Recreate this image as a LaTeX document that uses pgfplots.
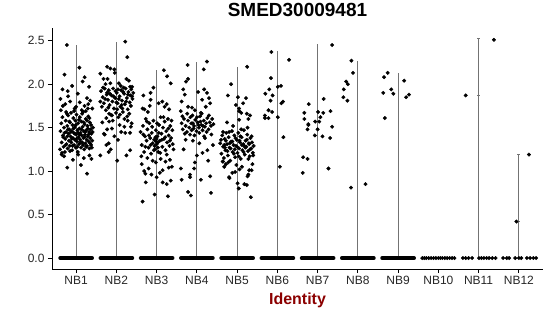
\documentclass[border=0pt]{standalone}
\usepackage{fontspec}
\setmainfont{Liberation Sans}
\usepackage{pgfplots}
\pgfplotsset{compat=1.18}
\definecolor{idred}{RGB}{139,0,0}
\pgfplotsset{
  pts/.style={only marks, mark=*, mark size=1.75bp, draw=black, fill=black, mark options={draw=black, fill=black, solid}},
  vln/.style={black!55, line width=1bp, no marks},
  zrow/.style={black, line width=3.5bp, line cap=round, no marks},
}
\begin{document}
\begin{tikzpicture}
\useasboundingbox (-52bp,-47bp) rectangle (498bp,269bp);
\begin{axis}[
  at={(0,0)}, anchor=south west,
  scale only axis, width=491bp, height=241bp,
  xmin=0.4, xmax=12.6, ymin=-0.126, ymax=2.646,
  axis x line*=bottom, axis y line*=left,
  axis line style={line width=1bp, -, black},
  tick align=outside, major tick length=4bp,
  tick style={line width=1bp, black},
  xtick={1,2,3,4,5,6,7,8,9,10,11,12},
  xticklabels={NB1,NB2,NB3,NB4,NB5,NB6,NB7,NB8,NB9,NB10,NB11,NB12},
  ytick={0,0.5,1,1.5,2,2.5},
  yticklabel style={/pgf/number format/.cd, fixed, fixed zerofill, precision=1, assume math mode=true},
  tick label style={font=\fontsize{12bp}{14bp}\selectfont, text=black!85},
  title={SMED30009481},
  title style={font=\bfseries\fontsize{19bp}{22bp}\selectfont, at={(axis description cs:0.5,1)}, anchor=base, yshift=6bp},
  xlabel={Identity},
  xlabel style={font=\bfseries\fontsize{16bp}{19bp}\selectfont, text=idred, at={(axis description cs:0.5,0)}, anchor=base, yshift=-35bp},
  clip=false,
]
% violin (thin) lines
\addplot[vln] coordinates {(1,0) (1,2.45)};
\addplot[vln] coordinates {(2,0) (2,2.49)};
\addplot[vln] coordinates {(3,0) (3,2.16)};
\addplot[vln] coordinates {(4,0) (4,2.26)};
\addplot[vln] coordinates {(5,0) (5,2.20)};
\addplot[vln] coordinates {(6,0) (6,2.38)};
\addplot[vln] coordinates {(7,0) (7,2.46)};
\addplot[vln] coordinates {(8,0) (8,2.27)};
\addplot[vln] coordinates {(9,0) (9,2.13)};
\addplot[vln] coordinates {(11,0) (11,2.52)};
\addplot[vln] coordinates {(12,0) (12,1.19)};
\addplot[vln] coordinates {(10.97,1.87) (11.03,1.87)};
\addplot[vln] coordinates {(10.97,2.52) (11.03,2.52)};
\addplot[vln] coordinates {(11.96,1.19) (12.04,1.19)};
\addplot[vln] coordinates {(11.96,0.42) (12.04,0.42)};
% dense rows of zero values
\addplot[zrow] coordinates {(0.60,0) (1.40,0)};
\addplot[zrow] coordinates {(1.60,0) (2.40,0)};
\addplot[zrow] coordinates {(2.60,0) (3.40,0)};
\addplot[zrow] coordinates {(3.60,0) (4.40,0)};
\addplot[zrow] coordinates {(4.60,0) (5.40,0)};
\addplot[zrow] coordinates {(5.60,0) (6.40,0)};
\addplot[zrow] coordinates {(6.60,0) (7.40,0)};
\addplot[zrow] coordinates {(7.60,0) (8.40,0)};
\addplot[zrow] coordinates {(8.60,0) (9.40,0)};
% NB10-NB12 zeros
\addplot[pts] table[row sep=\\, x expr=\thisrow{dx}+10, y=y] {dx y\\ -0.40 0\\ -0.35 0\\ -0.30 0\\ -0.24 0\\ -0.18 0\\ -0.12 0\\ -0.06 0\\ 0.00 0\\ 0.05 0\\ 0.10 0\\ 0.16 0\\ 0.22 0\\ 0.28 0\\ 0.34 0\\ 0.40 0\\};
\addplot[pts] table[row sep=\\, x expr=\thisrow{dx}+11, y=y] {dx y\\ -0.39 0\\ -0.32 0\\ -0.25 0\\ -0.16 0\\ 0.01 0\\ 0.07 0\\ 0.13 0\\ 0.20 0\\ 0.26 0\\ 0.34 0\\ 0.42 0\\ -0.32 1.87\\ 0.38 2.51\\};
\addplot[pts] table[row sep=\\, x expr=\thisrow{dx}+12, y=y] {dx y\\ -0.39 0\\ -0.30 0\\ -0.24 0\\ -0.09 0\\ 0.00 0\\ 0.06 0\\ 0.20 0\\ 0.28 0\\ 0.36 0\\ 0.43 0\\ 0.25 1.19\\ -0.06 0.42\\};
% NB1
\addplot[pts] table[row sep=\\, x expr=\thisrow{dx}+1, y=y] {dx y\\
-0.23 2.45\\ 0.08 2.19\\ -0.29 2.11\\ 0.21 2.08\\ 0.16 2.03\\ -0.10 1.98\\ -0.34 1.94\\ 0.32 1.97\\ -0.21 1.92\\ 0.04 1.89\\
0.27 1.84\\ -0.39 1.83\\ -0.20 1.86\\ 0.35 1.81\\ 0.09 1.79\\ -0.27 1.77\\ 0.21 1.75\\ 0.29 1.72\\ -0.33 1.75\\ -0.04 1.72\\
-0.40 1.25\\ -0.36 1.33\\ -0.33 1.41\\ -0.31 1.28\\ -0.30 1.50\\ -0.28 1.22\\ -0.27 1.37\\ -0.26 1.58\\ -0.25 1.45\\ -0.24 1.31\\
-0.22 1.52\\ -0.21 1.26\\ -0.20 1.64\\ -0.19 1.43\\ -0.18 1.35\\ -0.17 1.48\\ -0.16 1.29\\ -0.15 1.56\\ -0.14 1.40\\ -0.13 1.67\\
-0.12 1.33\\ -0.11 1.46\\ -0.10 1.24\\ -0.09 1.53\\ -0.08 1.38\\ -0.07 1.61\\ -0.06 1.44\\ -0.05 1.30\\ -0.04 1.50\\ -0.03 1.36\\
-0.02 1.58\\ -0.01 1.27\\ 0.00 1.42\\ 0.01 1.65\\ 0.02 1.34\\ 0.03 1.47\\ 0.04 1.22\\ 0.05 1.55\\ 0.06 1.39\\ 0.07 1.31\\
0.08 1.49\\ 0.09 1.62\\ 0.10 1.36\\ 0.11 1.44\\ 0.12 1.27\\ 0.13 1.57\\ 0.14 1.41\\ 0.15 1.33\\ 0.16 1.51\\ 0.17 1.68\\
0.18 1.38\\ 0.19 1.46\\ 0.20 1.25\\ 0.21 1.54\\ 0.22 1.42\\ 0.23 1.32\\ 0.24 1.60\\ 0.25 1.47\\ 0.26 1.36\\ 0.27 1.29\\
0.28 1.52\\ 0.29 1.40\\ 0.30 1.63\\ 0.31 1.34\\ 0.32 1.45\\ 0.33 1.26\\ 0.34 1.56\\ 0.35 1.38\\ 0.36 1.48\\ 0.37 1.30\\
0.38 1.43\\ 0.40 1.35\\ 0.42 1.50\\
-0.39 1.46\\ -0.37 1.55\\ -0.35 1.21\\ -0.34 1.62\\ -0.32 1.39\\ -0.29 1.44\\ -0.26 1.30\\ -0.23 1.66\\ -0.22 1.40\\ -0.20 1.48\\
-0.17 1.57\\ -0.15 1.23\\ -0.13 1.45\\ -0.11 1.37\\ -0.09 1.29\\ -0.07 1.49\\ -0.05 1.69\\ -0.03 1.43\\ -0.01 1.53\\ 0.01 1.37\\
0.03 1.28\\ 0.05 1.44\\ 0.07 1.59\\ 0.09 1.42\\ 0.11 1.33\\ 0.13 1.48\\ 0.15 1.66\\ 0.17 1.30\\ 0.19 1.56\\ 0.21 1.39\\
0.23 1.45\\ 0.25 1.28\\ 0.27 1.58\\ 0.29 1.49\\ 0.31 1.42\\ 0.33 1.61\\ 0.35 1.32\\ 0.37 1.53\\ 0.39 1.27\\ 0.41 1.45\\
-0.22 1.04\\ 0.12 1.07\\ 0.27 0.97\\ -0.30 1.17\\ 0.19 1.15\\ 0.33 1.18\\ -0.08 1.13\\ 0.05 1.19\\ 0.38 1.14\\ -0.36 1.19\\
-0.38 1.70\\ 0.00 1.74\\ 0.14 1.70\\ 0.30 1.77\\ -0.15 1.80\\ 0.40 1.72\\ -0.25 1.68\\ 0.24 1.69\\
};
% NB2
\addplot[pts] table[row sep=\\, x expr=\thisrow{dx}+2, y=y] {dx y\\
0.22 2.49\\ 0.27 2.31\\ -0.23 2.20\\ -0.15 2.18\\ -0.05 2.17\\ -0.04 2.13\\ -0.40 2.12\\ -0.32 2.06\\ -0.22 2.06\\ 0.25 2.06\\
0.31 2.04\\ 0.06 2.01\\ -0.27 2.00\\ -0.15 2.01\\ 0.39 1.97\\ 0.18 1.96\\
-0.38 1.92\\ -0.34 1.85\\ -0.31 1.78\\ -0.29 1.95\\ -0.26 1.70\\ -0.24 1.88\\ -0.21 1.82\\ -0.19 1.93\\ -0.17 1.76\\ -0.14 1.65\\
-0.12 1.87\\ -0.10 1.80\\ -0.08 1.95\\ -0.06 1.72\\ -0.03 1.84\\ -0.01 1.67\\ 0.01 1.90\\ 0.03 1.78\\ 0.05 1.62\\ 0.08 1.86\\
0.10 1.74\\ 0.12 1.93\\ 0.14 1.81\\ 0.16 1.68\\ 0.19 1.89\\ 0.21 1.77\\ 0.23 1.95\\ 0.26 1.84\\ 0.28 1.71\\ 0.30 1.91\\
0.33 1.79\\ 0.35 1.87\\ 0.37 1.94\\ 0.40 1.83\\ 0.42 1.90\\
-0.36 1.74\\ -0.33 1.96\\ -0.28 1.83\\ -0.25 1.61\\ -0.20 1.73\\ -0.16 1.89\\ -0.11 1.64\\ -0.07 1.86\\ -0.02 1.92\\ 0.02 1.71\\
0.06 1.83\\ 0.09 1.65\\ 0.13 1.76\\ 0.17 1.91\\ 0.20 1.60\\ 0.24 1.80\\ 0.29 1.88\\ 0.32 1.66\\ 0.36 1.75\\ 0.39 1.86\\
-0.40 1.80\\ -0.23 1.90\\ -0.09 1.58\\ 0.00 1.79\\ 0.11 1.98\\ 0.27 1.63\\ 0.34 1.97\\ -0.18 1.66\\ 0.15 1.72\\ 0.04 1.94\\
-0.40 1.18\\ 0.02 1.12\\ 0.25 1.18\\ -0.19 1.22\\ -0.14 1.25\\ -0.25 1.30\\ -0.19 1.32\\ 0.34 1.24\\ 0.04 1.36\\ -0.29 1.42\\
-0.31 1.43\\ 0.22 1.44\\ 0.12 1.45\\ 0.34 1.44\\ -0.23 1.48\\ -0.11 1.49\\ 0.20 1.51\\ 0.36 1.51\\ -0.35 1.56\\ -0.18 1.57\\
0.28 1.58\\ 0.38 1.55\\ 0.08 1.53\\ -0.05 1.40\\
};
% NB3
\addplot[pts] table[row sep=\\, x expr=\thisrow{dx}+3, y=y] {dx y\\
0.18 2.16\\ 0.26 2.09\\ 0.35 2.01\\ -0.08 1.96\\ -0.15 1.90\\ -0.33 1.87\\ -0.15 1.82\\ 0.14 1.80\\ -0.35 1.72\\ 0.25 1.77\\
0.31 1.71\\ -0.30 1.71\\ -0.17 1.75\\ 0.05 1.78\\ 0.20 1.74\\ -0.22 1.68\\
-0.40 1.45\\ -0.37 1.30\\ -0.34 1.52\\ -0.31 1.22\\ -0.29 1.40\\ -0.27 1.60\\ -0.25 1.35\\ -0.23 1.48\\ -0.20 1.27\\ -0.18 1.55\\
-0.16 1.38\\ -0.14 1.20\\ -0.12 1.44\\ -0.10 1.32\\ -0.08 1.58\\ -0.06 1.36\\ -0.04 1.25\\ -0.02 1.47\\ 0.00 1.31\\ 0.02 1.40\\
0.04 1.22\\ 0.06 1.53\\ 0.08 1.35\\ 0.10 1.62\\ 0.12 1.43\\ 0.14 1.28\\ 0.16 1.50\\ 0.18 1.37\\ 0.20 1.57\\ 0.22 1.24\\
0.24 1.46\\ 0.26 1.33\\ 0.28 1.60\\ 0.30 1.41\\ 0.32 1.29\\ 0.34 1.52\\ 0.36 1.38\\ 0.39 1.47\\ 0.42 1.25\\
-0.38 1.17\\ -0.33 1.42\\ -0.28 1.28\\ -0.24 1.57\\ -0.19 1.41\\ -0.15 1.30\\ -0.11 1.51\\ -0.07 1.24\\ -0.03 1.39\\ 0.01 1.55\\
0.03 1.33\\ 0.05 1.44\\ 0.09 1.21\\ 0.13 1.36\\ 0.17 1.62\\ 0.21 1.39\\ 0.25 1.19\\ 0.29 1.49\\ 0.33 1.35\\ 0.37 1.58\\
0.40 1.31\\ -0.02 1.34\\ -0.05 1.29\\ 0.00 1.37\\ 0.03 1.27\\
-0.35 0.65\\ -0.31 1.00\\ -0.28 0.97\\ -0.27 0.87\\ -0.20 1.03\\ -0.13 0.96\\ -0.05 0.73\\ 0.00 0.93\\ -0.02 1.10\\ 0.08 0.98\\
0.15 1.01\\ 0.15 0.87\\ 0.22 1.11\\ 0.25 0.85\\ 0.28 0.71\\ 0.30 1.04\\ 0.35 0.89\\ 0.38 1.05\\ -0.37 1.08\\ 0.10 1.14\\
-0.10 1.12\\ 0.33 1.13\\ -0.23 1.15\\
};
% NB4
\addplot[pts] table[row sep=\\, x expr=\thisrow{dx}+4, y=y] {dx y\\
-0.23 2.22\\ 0.25 2.26\\ 0.17 2.17\\ -0.22 2.06\\ -0.27 2.03\\ -0.34 1.94\\ -0.30 1.88\\ 0.03 1.91\\ 0.25 1.90\\ 0.13 1.82\\
0.30 1.84\\ -0.38 1.80\\ -0.40 1.69\\ -0.22 1.74\\ -0.12 1.73\\ 0.22 1.74\\ 0.18 1.94\\ 0.33 1.78\\ -0.05 1.70\\ 0.10 1.67\\
-0.38 1.55\\ -0.35 1.48\\ -0.32 1.60\\ -0.28 1.52\\ -0.25 1.45\\ -0.22 1.58\\ -0.19 1.50\\ -0.16 1.62\\ -0.13 1.47\\ -0.10 1.55\\
-0.07 1.52\\ -0.04 1.59\\ -0.01 1.46\\ 0.02 1.56\\ 0.05 1.50\\ 0.08 1.63\\ 0.11 1.53\\ 0.14 1.47\\ 0.17 1.58\\ 0.20 1.51\\
0.23 1.55\\ 0.26 1.61\\ 0.29 1.48\\ 0.32 1.56\\ 0.35 1.52\\ 0.38 1.60\\ 0.41 1.54\\
-0.36 1.63\\ -0.30 1.43\\ -0.24 1.66\\ -0.17 1.42\\ -0.11 1.64\\ -0.06 1.41\\ 0.00 1.62\\ 0.06 1.44\\ 0.12 1.66\\ 0.18 1.40\\
0.24 1.45\\ 0.30 1.64\\ 0.36 1.42\\ -0.14 1.55\\ 0.04 1.53\\ 0.09 1.57\\ -0.08 1.49\\ 0.15 1.52\\
-0.33 1.25\\ 0.06 1.32\\ 0.26 1.24\\ 0.14 1.21\\ -0.40 1.03\\ -0.17 0.96\\ -0.17 0.93\\ -0.07 1.03\\ -0.38 0.90\\ 0.10 0.90\\
0.33 0.94\\ -0.22 0.76\\ -0.15 0.72\\ 0.35 0.75\\ -0.10 1.35\\ 0.20 1.38\\ -0.28 1.36\\ 0.40 1.30\\ 0.00 1.18\\ -0.05 1.10\\
0.28 1.12\\
};
% NB5
\addplot[pts] table[row sep=\\, x expr=\thisrow{dx}+5, y=y] {dx y\\
0.25 2.20\\ -0.15 2.00\\ -0.23 1.87\\ 0.02 1.85\\ 0.22 1.84\\ 0.15 1.78\\ -0.03 1.76\\ 0.05 1.72\\ 0.05 1.69\\ 0.24 1.66\\
0.32 1.64\\ 0.10 1.67\\ -0.25 1.56\\ 0.05 1.59\\ 0.28 1.60\\ -0.35 1.45\\
-0.42 1.32\\ -0.39 1.20\\ -0.37 1.41\\ -0.35 1.28\\ -0.33 1.15\\ -0.31 1.37\\ -0.29 1.24\\ -0.27 1.44\\ -0.25 1.31\\ -0.23 1.18\\
-0.21 1.39\\ -0.19 1.27\\ -0.17 1.12\\ -0.15 1.34\\ -0.13 1.46\\ -0.11 1.22\\ -0.09 1.30\\ -0.07 1.41\\ -0.05 1.16\\ -0.03 1.29\\
-0.01 1.36\\ 0.01 1.21\\ 0.03 1.44\\ 0.05 1.26\\ 0.07 1.33\\ 0.09 1.14\\ 0.11 1.39\\ 0.13 1.24\\ 0.15 1.31\\ 0.17 1.47\\
0.19 1.19\\ 0.21 1.35\\ 0.23 1.28\\ 0.25 1.42\\ 0.27 1.23\\ 0.29 1.32\\ 0.31 1.17\\ 0.33 1.38\\ 0.35 1.26\\ 0.37 1.33\\
0.39 1.21\\ 0.41 1.29\\
-0.40 1.36\\ -0.36 1.11\\ -0.32 1.30\\ -0.28 1.35\\ -0.24 1.23\\ -0.20 1.45\\ -0.16 1.26\\ -0.12 1.34\\ -0.08 1.20\\ -0.04 1.38\\
0.00 1.28\\ 0.04 1.17\\ 0.08 1.40\\ 0.12 1.30\\ 0.16 1.22\\ 0.20 1.27\\ 0.24 1.36\\ 0.28 1.14\\ 0.32 1.25\\ 0.36 1.40\\
0.40 1.18\\ -0.30 1.27\\ -0.18 1.32\\ -0.06 1.25\\ 0.06 1.35\\ 0.18 1.29\\ 0.30 1.31\\ -0.22 1.10\\ 0.10 1.48\\ 0.26 1.50\\
-0.10 1.52\\
-0.35 1.11\\ -0.32 1.05\\ -0.19 0.92\\ -0.12 0.98\\ -0.05 0.99\\ 0.01 0.86\\ 0.04 0.80\\ 0.06 1.02\\ 0.18 0.85\\ 0.24 0.84\\
0.26 0.94\\ 0.28 0.96\\ 0.30 1.01\\ 0.34 0.70\\ 0.36 1.01\\ -0.20 0.93\\ 0.12 1.05\\ -0.02 1.07\\ 0.38 1.08\\ -0.28 1.08\\
};
% NB6
\addplot[pts] table[row sep=\\, x expr=\thisrow{dx}+6, y=y] {dx y\\
-0.15 2.37\\ 0.29 2.28\\ -0.16 2.07\\ -0.20 1.94\\ -0.30 1.89\\ -0.12 1.87\\ -0.17 1.81\\ 0.01 1.97\\ 0.09 1.98\\ 0.14 1.80\\
0.10 1.78\\ -0.22 1.70\\ -0.13 1.68\\ -0.31 1.64\\ -0.31 1.61\\ -0.22 1.61\\ 0.01 1.62\\ 0.15 1.39\\ 0.06 1.05\\
};
% NB7
\addplot[pts] table[row sep=\\, x expr=\thisrow{dx}+7, y=y] {dx y\\
0.36 2.45\\ -0.22 1.77\\ 0.15 1.83\\ -0.33 1.67\\ 0.01 1.68\\ 0.14 1.67\\ 0.32 1.69\\ 0.07 1.62\\ -0.33 1.60\\ 0.04 1.57\\
-0.06 1.57\\ -0.23 1.54\\ -0.23 1.53\\ 0.36 1.51\\ -0.25 1.48\\ 0.00 1.48\\ -0.07 1.41\\ 0.12 1.40\\ 0.31 1.38\\ -0.36 1.16\\
-0.25 1.14\\ 0.27 1.03\\ -0.37 0.98\\
};
% NB8
\addplot[pts] table[row sep=\\, x expr=\thisrow{dx}+8, y=y] {dx y\\
-0.16 2.27\\ -0.12 2.13\\ -0.29 2.03\\ -0.25 2.00\\ -0.35 1.94\\ -0.36 1.85\\ -0.26 1.81\\ -0.17 0.81\\ 0.19 0.85\\
};
% NB9
\addplot[pts] table[row sep=\\, x expr=\thisrow{dx}+9, y=y] {dx y\\
-0.26 2.13\\ -0.35 2.08\\ 0.15 2.04\\ -0.17 1.94\\ -0.37 1.90\\ -0.12 1.89\\ 0.27 1.88\\ 0.20 1.85\\ -0.33 1.61\\
};
\end{axis}
\end{tikzpicture}
\end{document}
